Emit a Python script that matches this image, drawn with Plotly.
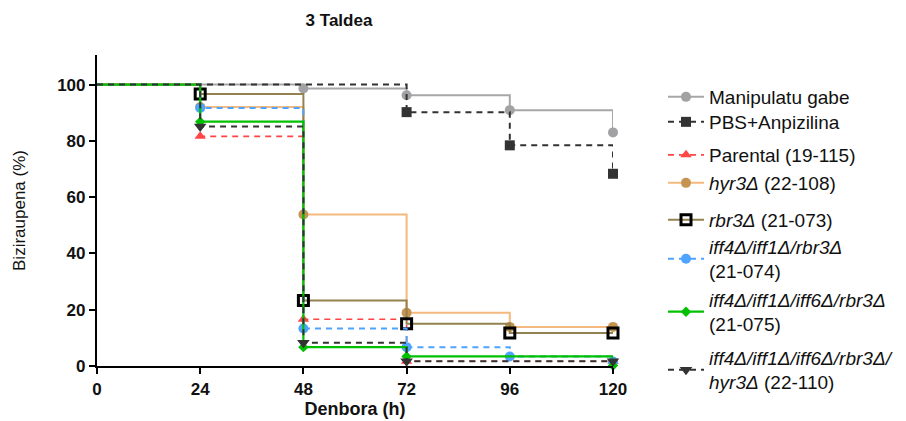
import plotly.graph_objects as go

# ---- data ----
times = [0, 24, 48, 72, 96, 120]

names = [
    "Manipulatu gabe",
    "PBS+Anpizilina",
    "Parental (19-115)",
    "<i>hyr3Δ</i> (22-108)",
    "<i>rbr3Δ</i> (21-073)",
    "<i>iff4Δ/iff1Δ/rbr3Δ</i><br>(21-074)",
    "<i>iff4Δ/iff1Δ/iff6Δ/rbr3Δ</i><br>(21-075)",
    "<i>iff4Δ/iff1Δ/iff6Δ/rbr3Δ/</i><br><i>hyr3Δ</i> (22-110)",
]

manipulatu_gabe = [100, 100, 98.6, 96.2, 90.9, 83.0]
pbs_anpizilina = [100, 100, 100, 90.2, 78.4, 68.3]
parental = [100, 81.6, 16.6, 1.7, 1.7, 1.7]
hyr3 = [100, 92.0, 53.8, 18.9, 13.9, 13.9]
rbr3 = [100, 96.6, 23.3, 15.0, 11.7, 11.7]
iff4_iff1_rbr3 = [100, 91.7, 13.3, 6.7, 3.4, 1.6]
iff4_iff1_iff6_rbr3 = [100, 86.8, 6.7, 3.4, 3.4, 0.2]
iff4_iff1_iff6_rbr3_hyr3 = [100, 85.1, 8.3, 1.7, 1.7, 1.7]

series = [manipulatu_gabe, pbs_anpizilina, parental, hyr3, rbr3,
          iff4_iff1_rbr3, iff4_iff1_iff6_rbr3, iff4_iff1_iff6_rbr3_hyr3]

# ---- styles ----
styles = [
    dict(line=dict(color="#a7a7a9", width=2), marker=dict(symbol="circle", size=10, color="#a2a2a4")),
    dict(line=dict(color="#333333", width=2, dash="6px,5px"), marker=dict(symbol="square", size=10, color="#333333")),
    dict(line=dict(color="#ff4545", width=1.6, dash="6px,5px"), marker=dict(symbol="triangle-up", size=10, color="#ff4545")),
    dict(line=dict(color="#f4b97e", width=2), marker=dict(symbol="circle", size=10, color="#c49450")),
    dict(line=dict(color="#93824f", width=2), marker=dict(symbol="square-open", size=10, color="#000000", line=dict(width=3, color="#000000"))),
    dict(line=dict(color="#4ea4ff", width=2, dash="6px,5px"), marker=dict(symbol="circle", size=10, color="#4ea4ff")),
    dict(line=dict(color="#00c000", width=2.2), marker=dict(symbol="diamond", size=8, color="#00c000")),
    dict(line=dict(color="#333333", width=2, dash="6px,5px"), marker=dict(symbol="triangle-down", size=11, color="#333333")),
]

# legend row centres (pixels from top)
legend_py = [97, 122, 155, 183, 220, 259, 312, 370]

FONT = "Liberation Sans, Arial, sans-serif"
W, H = 906, 421
T, B = 55, 55

fig = go.Figure()

for i, (vals, st) in enumerate(zip(series, styles)):
    # step line
    fig.add_trace(go.Scatter(x=times, y=vals, mode="lines", line_shape="hv",
                             line=st["line"], showlegend=False, hoverinfo="skip",
                             cliponaxis=False))
    # markers at each drop and at the final time point
    mx, my = [], []
    for j in range(1, len(times)):
        if vals[j] != vals[j - 1] or j == len(times) - 1:
            mx.append(times[j])
            my.append(vals[j])
    fig.add_trace(go.Scatter(x=mx, y=my, mode="markers", marker=st["marker"],
                             showlegend=False, cliponaxis=False))
    # legend entry
    lg = "legend" if i == 0 else f"legend{i + 1}"
    fig.add_trace(go.Scatter(x=[None], y=[None], mode="lines+markers",
                             line=st["line"], marker=st["marker"],
                             name=names[i], legend=lg, showlegend=True))

layout_legends = {}
for i, py in enumerate(legend_py):
    key = "legend" if i == 0 else f"legend{i + 1}"
    layout_legends[key] = dict(
        x=663 / W, xref="container", xanchor="left",
        y=1 - py / H, yref="container", yanchor="middle",
        bgcolor="rgba(0,0,0,0)", borderwidth=0,
        font=dict(family=FONT, size=19, color="#111111"),
        itemwidth=36, tracegroupgap=0,
    )

fig.update_layout(
    width=W, height=H,
    margin=dict(l=97, r=293, t=T, b=B),
    paper_bgcolor="white", plot_bgcolor="white",
    title=dict(text="3 Taldea", x=339 / W, xref="container", xanchor="center",
               y=1 - 20 / H, yref="container", yanchor="middle",
               font=dict(family=FONT, size=17, color="#111111", weight="bold")),
    xaxis=dict(range=[0, 120], tickvals=times, ticktext=[str(t) for t in times],
               automargin=False,
               showgrid=False, zeroline=False, showline=True, linecolor="black", linewidth=2.2,
               ticks="outside", ticklen=6, tickwidth=2, tickcolor="black",
               tickfont=dict(family=FONT, size=17, color="#111111", weight="bold"),
               title=dict(text="Denbora (h)", standoff=5,
                          font=dict(family=FONT, size=18, color="#111111", weight="bold"))),
    yaxis=dict(range=[0, 110.5], tickvals=[0, 20, 40, 60, 80, 100],
               automargin=False,
               showgrid=False, zeroline=False, showline=True, linecolor="black", linewidth=2.2,
               ticks="outside", ticklen=6, tickwidth=2, tickcolor="black",
               tickfont=dict(family=FONT, size=17, color="#111111", weight="bold"),
               title=dict(text="Biziraupena (%)", standoff=27,
                          font=dict(family=FONT, size=17, color="#111111"))),
    **layout_legends,
)

fig.write_html("out.html", config={"displayModeBar": False},
               post_script="document.body.style.margin='0px';")
